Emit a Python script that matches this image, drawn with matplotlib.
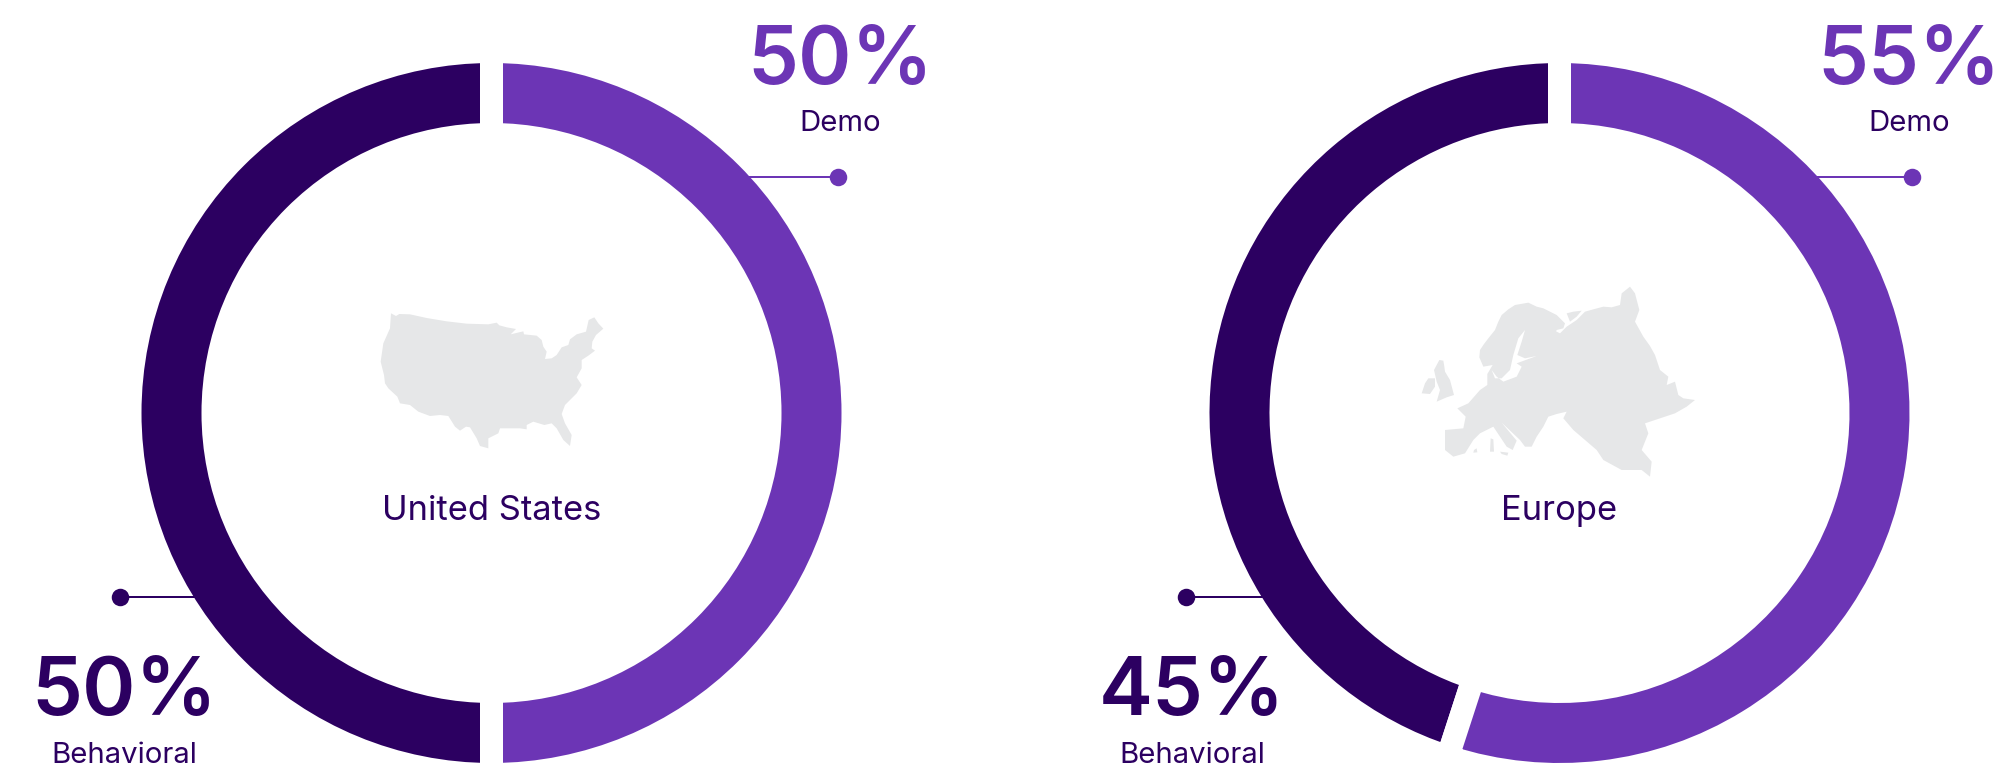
import matplotlib
matplotlib.use("Agg")
import matplotlib.pyplot as plt
from matplotlib.patches import Polygon

plt.rcParams['font.family'] = ['Inter', 'DejaVu Sans']

W, H = 2009, 770
DARK = "#2C0061"
PURPLE = "#6C35B5"
MAP_GREY = "#E6E7E8"

regions = ["United States", "Europe"]
behavioral = [50, 45]
demo = [50, 55]
segment_names = ["Behavioral", "Demo"]

# map outlines (x, y in crop pixels, 3x zoom)
us_outline = [(93,70),(108,78),(118,72),(150,73),(200,84),(260,94),(320,101),(385,103),(410,98),(418,106),
              (440,112),(468,117),(452,133),(490,124),(492,133),(530,137),(545,150),(550,170),(560,185),(555,207),
              (575,205),(590,195),(605,172),(625,165),(630,148),(650,133),(678,125),(686,90),(703,82),(715,100),
              (730,116),(708,135),(697,155),(695,175),(705,182),(685,197),(665,210),(665,235),(650,262),(665,285),
              (650,310),(615,345),(605,372),(615,400),(635,435),(630,468),(610,450),(590,415),(575,400),(553,405),
              (520,395),(500,405),(500,418),(480,415),(420,415),(415,430),(385,445),(385,475),(360,468),(350,445),
              (330,412),(318,410),(300,422),(285,410),(265,378),(240,375),(210,378),(175,365),(150,345),(120,340),
              (112,320),(85,295),(75,280),(72,255),(62,215),(70,160),(90,115)]
eu_main = [(135,480),(190,475),(197,440),(172,415),(205,400),(240,360),(262,345),(262,312),(278,285),(250,290),
           (238,262),(240,240),(252,222),(265,205),(285,180),(295,155),(305,135),(325,118),(345,105),(385,98),
           (410,110),(430,115),(470,135),(495,160),(490,175),(470,180),(462,200),(445,180),(430,165),(480,190),
           (500,170),(530,150),(555,125),(580,118),(610,110),(635,112),(660,105),(665,70),(690,50),(705,70),
           (718,120),(705,155),(730,200),(750,228),(765,255),(780,300),(805,320),(800,345),(825,335),(835,375),
           (850,385),(885,390),(860,410),(825,430),(780,445),(735,460),(745,490),(725,540),(755,575),(750,620),
           (725,600),(665,600),(610,570),(590,540),(520,480),(490,445),(500,425),(470,432),(445,440),(430,470),
           (410,500),(395,530),(375,530),(360,510),(305,458),(350,512),(338,540),(320,530),(280,470),(240,490),
           (220,510),(195,550),(160,560),(135,540)]
eu_britain = [(118,270),(130,272),(133,290),(135,305),(150,330),(162,375),(140,382),(110,395),(120,360),(110,335),(102,300)]
eu_ireland = [(85,325),(105,325),(105,350),(90,372),(65,370),(75,340)]
eu_sardinia = [(272,505),(280,508),(282,545),(270,545)]
eu_sicily = [(300,545),(325,548),(322,557),(305,552)]
eu_balearic = [(222,540),(230,535),(232,547),(220,548)]
eu_arctic = [(500,130),(520,125),(545,122),(530,140),(510,155)]
eu_baltic = [(375,180),(355,205),(340,255),(330,300),(305,325),(285,325),(275,300),(290,320),(310,335),(350,320),
             (365,290),(350,280),(410,258),(375,265),(352,255),(365,215)]

centers_x = [491.5, 1559.5]
center_y = 413
r_outer, r_inner, gap = 350, 290, 23

# callout anchors per chart, in image pixels
demo_dot_x = [838, 1912]
demo_line_x = [749, 1817]
demo_text_x = [840, 1909]
behavioral_dot_x = [120, 1186]
behavioral_line_x = [197, 1265]
behavioral_text_x = [124, 1192]

fig = plt.figure(figsize=(W / 100, H / 100), dpi=100, facecolor="white")
ax = fig.add_axes([0, 0, 1, 1])


def flip(y):
    return H - y


def crop(points, x0, y0):
    return [(x0 + x / 3, flip(y0 + y / 3)) for x, y in points]


def px(v):
    return v * 72 / 100


for cx, beh, dem in zip(centers_x, behavioral, demo):
    # white edge eats half the gap into each side, so grow the ring to match
    ax.pie([beh, dem], colors=[DARK, PURPLE], startangle=90, counterclock=True,
           center=(cx, flip(center_y)), radius=r_outer + gap / 2,
           wedgeprops=dict(width=r_outer - r_inner + gap, edgecolor="white", linewidth=px(gap)))

ax.set_xlim(0, W)
ax.set_ylim(0, H)
ax.set_aspect("equal")
ax.axis("off")

ax.add_patch(Polygon(crop(us_outline, 360, 290), fc=MAP_GREY, ec="none"))
for shape in [eu_main, eu_britain, eu_ireland, eu_sardinia, eu_sicily, eu_balearic, eu_arctic]:
    ax.add_patch(Polygon(crop(shape, 1400, 270), fc=MAP_GREY, ec="none"))
ax.add_patch(Polygon(crop(eu_baltic, 1400, 270), fc="white", ec="none"))

for i, (cx, region) in enumerate(zip(centers_x, regions)):
    ax.text(cx, flip(520), region, color=DARK, fontsize=px(34.5), ha="center", va="baseline")

    # demo callout, top right of ring
    ax.plot([demo_line_x[i], demo_dot_x[i]], [flip(177)] * 2, color=PURPLE, lw=px(2), solid_capstyle="butt")
    ax.plot([demo_dot_x[i]], [flip(177)], "o", color=PURPLE, ms=px(17.5), mew=0)
    ax.text(demo_text_x[i], flip(84), f"{demo[i]}%", color=PURPLE, fontsize=px(81), fontweight="semibold",
            ha="center", va="baseline")
    ax.text(demo_text_x[i], flip(131), segment_names[1], color=DARK, fontsize=px(29.3), ha="center", va="baseline")

    # behavioral callout, bottom left of ring
    ax.plot([behavioral_dot_x[i], behavioral_line_x[i]], [flip(597)] * 2, color=DARK, lw=px(2), solid_capstyle="butt")
    ax.plot([behavioral_dot_x[i]], [flip(597)], "o", color=DARK, ms=px(17.5), mew=0)
    ax.text(behavioral_text_x[i], flip(715), f"{behavioral[i]}%", color=DARK, fontsize=px(81), fontweight="semibold",
            ha="center", va="baseline")
    ax.text(behavioral_text_x[i], flip(763), segment_names[0], color=DARK, fontsize=px(29.3), ha="center", va="baseline")

fig.savefig("out.png", dpi=100, facecolor="white")
